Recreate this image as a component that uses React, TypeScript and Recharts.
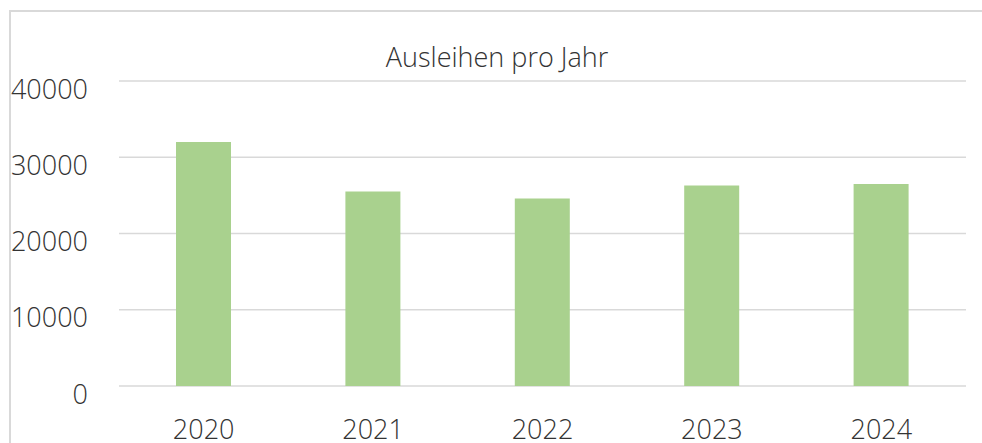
import { BarChart, Bar, XAxis, YAxis, CartesianGrid } from 'recharts';

const years = ['2020', '2021', '2022', '2023', '2024'];
const loans = [32000, 25500, 24600, 26300, 26500];
const yTicks = [0, 10000, 20000, 30000, 40000];

const rows = years.map((year, i) => ({ year, loans: loans[i] }));

const FONT = '"Open Sans", "Noto Sans", sans-serif';
const TEXT = '#333333';
const GRID = '#d9d9d9';

function YTick({ x, y, payload }: any) {
  return (
    <text x={x} y={y + 7} textAnchor="end" dominantBaseline="central" fill={TEXT} fontSize={27} fontFamily={FONT} fontWeight={300}>
      {payload.value}
    </text>
  );
}

function XTick({ x, y, payload }: any) {
  return (
    <text x={x} y={y + 34} textAnchor="middle" dominantBaseline="central" fill={TEXT} fontSize={27} fontFamily={FONT} fontWeight={300}>
      {payload.value}
    </text>
  );
}

export default function App() {
  return (
    <div style={{ position: 'absolute', left: 0, top: 0, width: 982, height: 443, background: '#fff', overflow: 'hidden' }}>
      <div
        style={{
          position: 'absolute',
          left: 9,
          top: 10,
          right: -2,
          bottom: -2,
          borderTop: `2px solid ${GRID}`,
          borderLeft: `2px solid ${GRID}`,
        }}
      />
      <div
        style={{
          position: 'absolute',
          left: 0,
          width: 982,
          top: 38,
          textAlign: 'center',
          paddingLeft: 12,
          boxSizing: 'border-box',
          fontFamily: FONT,
          fontWeight: 300,
          fontSize: 27,
          color: TEXT,
          lineHeight: '38px',
        }}
      >
        Ausleihen pro Jahr
      </div>
      <div style={{ position: 'absolute', left: 0, top: 0 }}>
        <BarChart width={982} height={443} data={rows} margin={{ top: 81, right: 16, left: 0, bottom: 0 }} barSize={55}>
          <CartesianGrid vertical={false} stroke={GRID} strokeWidth={1.6} />
          <XAxis dataKey="year" height={57} axisLine={false} tickLine={false} tick={<XTick />} interval={0} />
          <YAxis
            width={119}
            domain={[0, 40000]}
            ticks={yTicks}
            axisLine={false}
            tickLine={false}
            tickSize={0}
            tickMargin={31}
            tick={<YTick />}
            interval={0}
          />
          <Bar dataKey="loans" fill="#a9d18e" isAnimationActive={false} />
        </BarChart>
      </div>
    </div>
  );
}
